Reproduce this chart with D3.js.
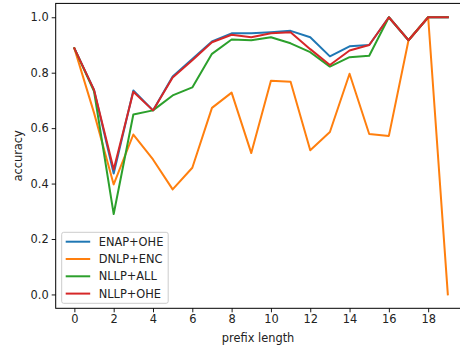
<!DOCTYPE html>
<html>
<head>
<meta charset="utf-8">
<script src="https://cdn.jsdelivr.net/npm/d3@7"></script>
<style>
  html, body { margin: 0; padding: 0; background: #fff; }
  svg { display: block; font-family: "DejaVu Sans", sans-serif; }
</style>
</head>
<body>
<svg id="chart" width="460" height="352"></svg>
<script>
// Prefix lengths on the x axis
const prefixLengths = d3.range(0, 20);

// Accuracy per prefix length for each encoding
const enapOhe = [0.888, 0.738, 0.436, 0.736, 0.664, 0.786, 0.849, 0.913, 0.942, 0.942, 0.946, 0.951, 0.928, 0.859, 0.895, 0.900, 1.0, 0.917, 1.0, 1.0];
const dnlpEnc = [0.888, 0.655, 0.397, 0.577, 0.487, 0.379, 0.457, 0.673, 0.728, 0.510, 0.771, 0.767, 0.520, 0.586, 0.796, 0.579, 0.572, 0.917, 1.0, 0.0];
const nllpAll = [0.888, 0.733, 0.290, 0.649, 0.664, 0.718, 0.747, 0.868, 0.920, 0.917, 0.928, 0.906, 0.874, 0.822, 0.856, 0.861, 1.0, 0.917, 1.0, 1.0];
const nllpOhe = [0.888, 0.738, 0.451, 0.731, 0.664, 0.783, 0.845, 0.910, 0.937, 0.928, 0.942, 0.946, 0.885, 0.828, 0.880, 0.900, 1.0, 0.917, 1.0, 1.0];

const seriesNames = ["ENAP+OHE", "DNLP+ENC", "NLLP+ALL", "NLLP+OHE"];
const seriesValues = [enapOhe, dnlpEnc, nllpAll, nllpOhe];
const seriesColors = ["#1f77b4", "#ff7f0e", "#2ca02c", "#d62728"];

const xTicks = [0, 2, 4, 6, 8, 10, 12, 14, 16, 18];
const yTicks = [0.0, 0.2, 0.4, 0.6, 0.8, 1.0];

const svg = d3.select("#chart");
const plot = { left: 55.7, right: 466.5, top: 3.4, bottom: 308.3 };

const x = d3.scaleLinear().domain([-0.95, 19.95]).range([plot.left, plot.right]);
const y = d3.scaleLinear().domain([-0.05, 1.05]).range([plot.bottom, plot.top]);

const fontSize = 11.4;

// Series lines
const line = d3.line()
  .x((d, i) => x(prefixLengths[i]))
  .y(d => y(d));

svg.append("g")
  .selectAll("path")
  .data(seriesValues)
  .join("path")
  .attr("d", d => line(d))
  .attr("fill", "none")
  .attr("stroke", (d, i) => seriesColors[i])
  .attr("stroke-width", 2)
  .attr("stroke-linejoin", "round")
  .attr("stroke-linecap", "square");

// Axes
const xAxis = svg.append("g")
  .attr("transform", `translate(0,${plot.bottom})`)
  .call(d3.axisBottom(x).tickValues(xTicks).tickFormat(d3.format("d")).tickSizeOuter(0).tickSize(4).tickPadding(3));
const yAxis = svg.append("g")
  .attr("transform", `translate(${plot.left},0)`)
  .call(d3.axisLeft(y).tickValues(yTicks).tickFormat(d3.format(".1f")).tickSizeOuter(0).tickSize(4).tickPadding(3));

[xAxis, yAxis].forEach(g => {
  g.select(".domain").remove();
  g.selectAll("line").attr("stroke", "#000").attr("stroke-width", 0.9);
  g.selectAll("text").attr("font-size", fontSize).attr("fill", "#222")
    .attr("font-family", "DejaVu Sans, sans-serif");
});

// Frame
svg.append("rect")
  .attr("x", plot.left).attr("y", plot.top)
  .attr("width", plot.right - plot.left).attr("height", plot.bottom - plot.top)
  .attr("fill", "none").attr("stroke", "#000").attr("stroke-width", 1);

// Axis titles
svg.append("text")
  .attr("x", (plot.left + plot.right) / 2 - 3)
  .attr("y", 341.5)
  .attr("text-anchor", "middle")
  .attr("font-size", fontSize)
  .attr("fill", "#222")
  .text("prefix length");

svg.append("text")
  .attr("transform", `translate(22,${(plot.top + plot.bottom) / 2}) rotate(-90)`)
  .attr("text-anchor", "middle")
  .attr("font-size", fontSize)
  .attr("fill", "#222")
  .text("accuracy");

// Legend
const legend = svg.append("g").attr("transform", "translate(61.7,232.3)");
legend.append("rect")
  .attr("width", 106.5).attr("height", 71)
  .attr("rx", 2)
  .attr("fill", "#fff").attr("fill-opacity", 0.8)
  .attr("stroke", "#ccc").attr("stroke-width", 1);

const items = legend.selectAll("g.item")
  .data(seriesNames)
  .join("g")
  .attr("class", "item")
  .attr("transform", (d, i) => `translate(0,${9.4 + i * 17.3})`);
items.append("line")
  .attr("x1", 4).attr("x2", 28.5)
  .attr("stroke", (d, i) => seriesColors[i])
  .attr("stroke-width", 2);
items.append("text")
  .attr("x", 37)
  .attr("dy", "0.36em")
  .attr("font-size", fontSize)
  .attr("fill", "#222")
  .text(d => d);
</script>
</body>
</html>
